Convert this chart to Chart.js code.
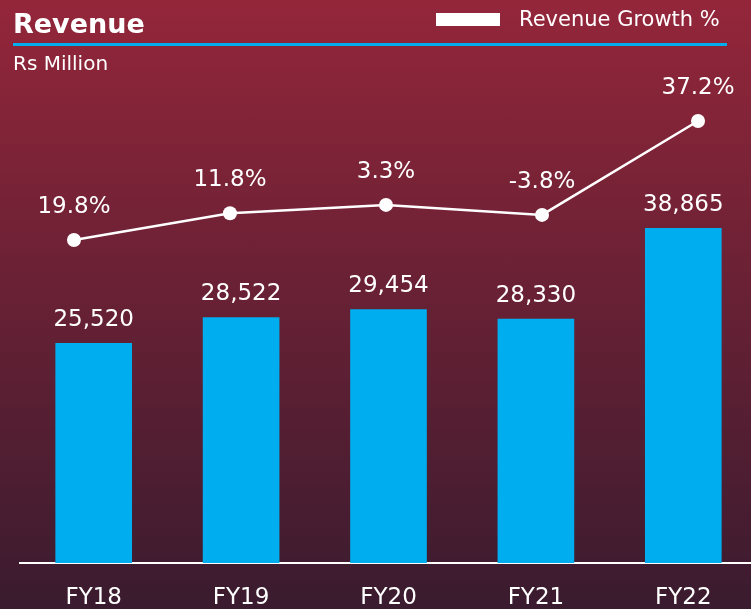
<!DOCTYPE html>
<html lang="en">
<head>
    <meta charset="UTF-8">
    <title>Revenue</title>
    <script src="https://cdn.jsdelivr.net/npm/chart.js"></script>
    <style>
        html, body {
            margin: 0;
            padding: 0;
            overflow: hidden;
        }
        body {
            width: 751px;
            height: 609px;
            position: relative;
            background: linear-gradient(to bottom, #94263a 0%, #3a1b2f 100%);
            font-family: "DejaVu Sans", sans-serif;
            color: #fff;
        }
        #revenueChart {
            position: absolute;
            left: 0;
            top: 0;
        }
        .title {
            position: absolute;
            left: 13px;
            top: 10px;
            font-size: 27px;
            font-weight: bold;
            line-height: 27px;
        }
        .rule {
            position: absolute;
            left: 13px;
            top: 43px;
            width: 714px;
            height: 3px;
            background: #00aeef;
        }
        .subtitle {
            position: absolute;
            left: 13px;
            top: 53px;
            font-size: 20px;
            line-height: 20px;
        }
        .legendBox {
            position: absolute;
            left: 436px;
            top: 13px;
            width: 64px;
            height: 13px;
            background: #fff;
        }
        .legendText {
            position: absolute;
            left: 519px;
            top: 9px;
            font-size: 21px;
            line-height: 21px;
        }
    </style>
</head>
<body>
    <canvas id="revenueChart" width="757" height="613"></canvas>
    <div class="title">Revenue</div>
    <div class="rule"></div>
    <div class="subtitle">Rs Million</div>
    <div class="legendBox"></div>
    <div class="legendText">Revenue Growth %</div>

    <script>
        // data
        const years = ['FY18', 'FY19', 'FY20', 'FY21', 'FY22'];
        const revenue = [25520, 28522, 29454, 28330, 38865];
        const growthPct = [19.8, 11.8, 3.3, -3.8, 37.2];

        // labels drawn above bars and line points
        const valueLabels = {
            id: 'valueLabels',
            afterDatasetsDraw(chart) {
                const ctx = chart.ctx;
                ctx.save();
                ctx.fillStyle = '#ffffff';
                ctx.font = '23px "DejaVu Sans"';
                ctx.textAlign = 'center';
                ctx.textBaseline = 'alphabetic';

                chart.getDatasetMeta(1).data.forEach((bar, i) => {
                    ctx.fillText(revenue[i].toLocaleString('en-US'), bar.x, bar.y - 17);
                });
                chart.getDatasetMeta(0).data.forEach((pt, i) => {
                    ctx.fillText(growthPct[i].toFixed(1) + '%', pt.x, pt.y - 27);
                });
                ctx.restore();
            }
        };

        const ctx = document.getElementById('revenueChart').getContext('2d');
        new Chart(ctx, {
            type: 'bar',
            data: {
                labels: years,
                datasets: [{
                    type: 'line',
                    label: 'Revenue Growth %',
                    data: revenue.map((v, i) => ({ x: i, y: v })),
                    xAxisID: 'x2',
                    yAxisID: 'y1',
                    borderColor: '#ffffff',
                    borderWidth: 2.5,
                    pointRadius: 7,
                    pointBackgroundColor: '#ffffff',
                    pointBorderWidth: 0,
                    tension: 0,
                    order: 0
                }, {
                    label: 'Revenue',
                    data: revenue,
                    backgroundColor: '#00aeef',
                    barPercentage: 0.52,
                    categoryPercentage: 1,
                    grouped: false,
                    xAxisID: 'x',
                    yAxisID: 'y',
                    order: 1
                }]
            },
            options: {
                responsive: false,
                animation: false,
                layout: {
                    autoPadding: false,
                    padding: { top: 89, left: 20, right: 0, bottom: 0 }
                },
                plugins: {
                    legend: { display: false },
                    tooltip: { enabled: false }
                },
                scales: {
                    x: {
                        offset: true,
                        grid: { display: false, drawTicks: false },
                        border: { display: true, color: '#ffffff', width: 2 },
                        ticks: {
                            color: '#ffffff',
                            font: { family: 'DejaVu Sans', size: 23 },
                            padding: 21,
                            maxRotation: 0
                        },
                        afterFit(scale) {
                            scale.height = 50;
                        }
                    },
                    x2: {
                        type: 'linear',
                        display: false,
                        offset: false,
                        min: -0.346,
                        max: 4.378
                    },
                    y: {
                        display: false,
                        min: 0,
                        max: 55000
                    },
                    y1: {
                        display: false,
                        min: -10700,
                        max: 42450
                    }
                }
            },
            plugins: [valueLabels]
        });
    </script>
</body>
</html>
